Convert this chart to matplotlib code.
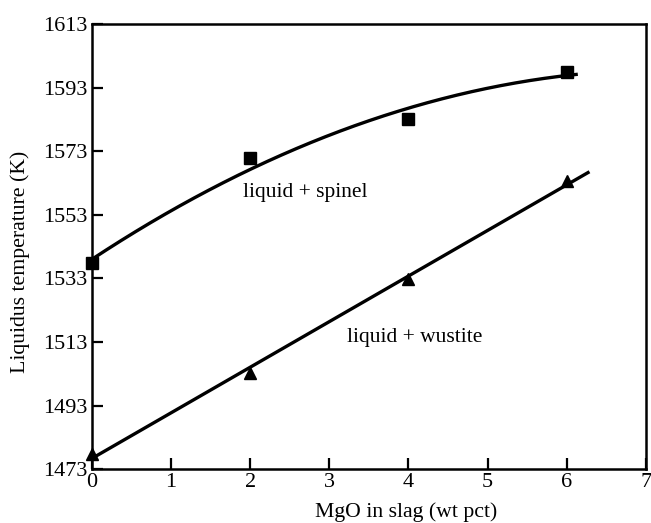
import numpy as np
import matplotlib.pyplot as plt

plt.rcParams['font.family'] = ['Liberation Serif', 'DejaVu Serif']

mgo = [0, 2, 4, 6]
t_spinel = [1537.8, 1570.8, 1583.0, 1598.0]
t_wustite = [1477.8, 1503.3, 1532.8, 1563.6]
yticks = [1473, 1493, 1513, 1533, 1553, 1573, 1593, 1613]


def main():
    fig = plt.figure(figsize=(6.51, 5.23), dpi=100)
    ax = fig.add_axes([0.141, 0.103, 0.851, 0.851])

    # fitted curves through the measured points
    p2 = np.polyfit(mgo, t_spinel, 2)
    xs = np.linspace(0, 6.12, 200)
    ax.plot(xs, np.polyval(p2, xs), color='black', lw=2.4)
    p1 = np.polyfit(mgo, t_wustite, 1)
    xw = np.linspace(0, 6.27, 50)
    ax.plot(xw, np.polyval(p1, xw), color='black', lw=2.4)

    ax.plot(mgo, t_spinel, 's', color='black', ms=8, clip_on=False)
    ax.plot(mgo, t_wustite, '^', color='black', ms=8, clip_on=False)

    ax.text(1.91, 1558.6, 'liquid + spinel', fontsize=15.5, va='baseline')
    ax.text(3.22, 1513, 'liquid + wustite', fontsize=15.5, va='baseline')

    ax.set_xlim(0, 7)
    ax.set_ylim(1473, 1613)
    ax.set_xticks(range(8))
    ax.set_yticks(yticks)
    ax.tick_params(direction='in', length=8, width=1.6, labelsize=16, pad=3)
    for s in ax.spines.values():
        s.set_linewidth(1.8)
    ax.set_xlabel('MgO in slag (wt pct)', fontsize=15.7)
    ax.set_ylabel('Liquidus temperature (K)', fontsize=15.7)
    ax.xaxis.set_label_coords(0.567, -0.074)
    ax.yaxis.set_label_coords(-0.112, 0.465)

    fig.savefig('out.png', dpi=100)


if __name__ == '__main__':
    main()
